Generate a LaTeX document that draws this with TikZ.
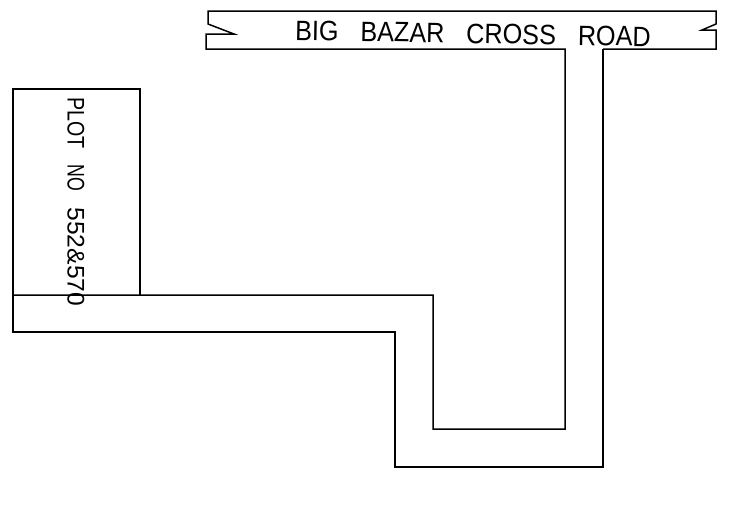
\documentclass[tikz,border=0pt]{standalone}
\usepackage{fontspec}
\setmainfont{Liberation Sans}
\tikzset{wall/.style={draw=black,line width=1.5pt,line join=miter},
 cadtext/.style={inner sep=0pt,text=black}}
\begin{document}
\begin{tikzpicture}[x=1pt,y=-1pt]
\useasboundingbox (0,0) rectangle (732,517);
\fill[white] (0,0) rectangle (732,517);
\draw[wall] (603,49) -- (716,49) -- (716,30) -- (702,30) -- (716,24) -- (716,11) -- (208,11) -- (208,24) -- (234,34) -- (206,34) -- (206,49) -- (565,49) -- (565,429) -- (433,429) -- (433,295) -- (13,295);
\draw[wall] (603,49) -- (603,467) -- (395,467) -- (395,332) -- (13,332) -- (13,89) -- (140,89) -- (140,295);
\node[cadtext,font=\fontsize{28}{28}\selectfont,rotate=-1,xscale=.9,transform shape,anchor=west] (road) at (295,30.5) {BIG\hspace{.87em}BAZAR\hspace{.87em}CROSS\hspace{.87em}ROAD};
\node[cadtext,font=\fontsize{24}{24}\selectfont,rotate=-90,xscale=.82,transform shape,anchor=west] (plot) at (76,97) {PLOT\hspace{.8em}\scalebox{.9}[1]{NO}\hspace{.85em}\scalebox{1.25}[1]{552\&570}};
\end{tikzpicture}
\end{document}
